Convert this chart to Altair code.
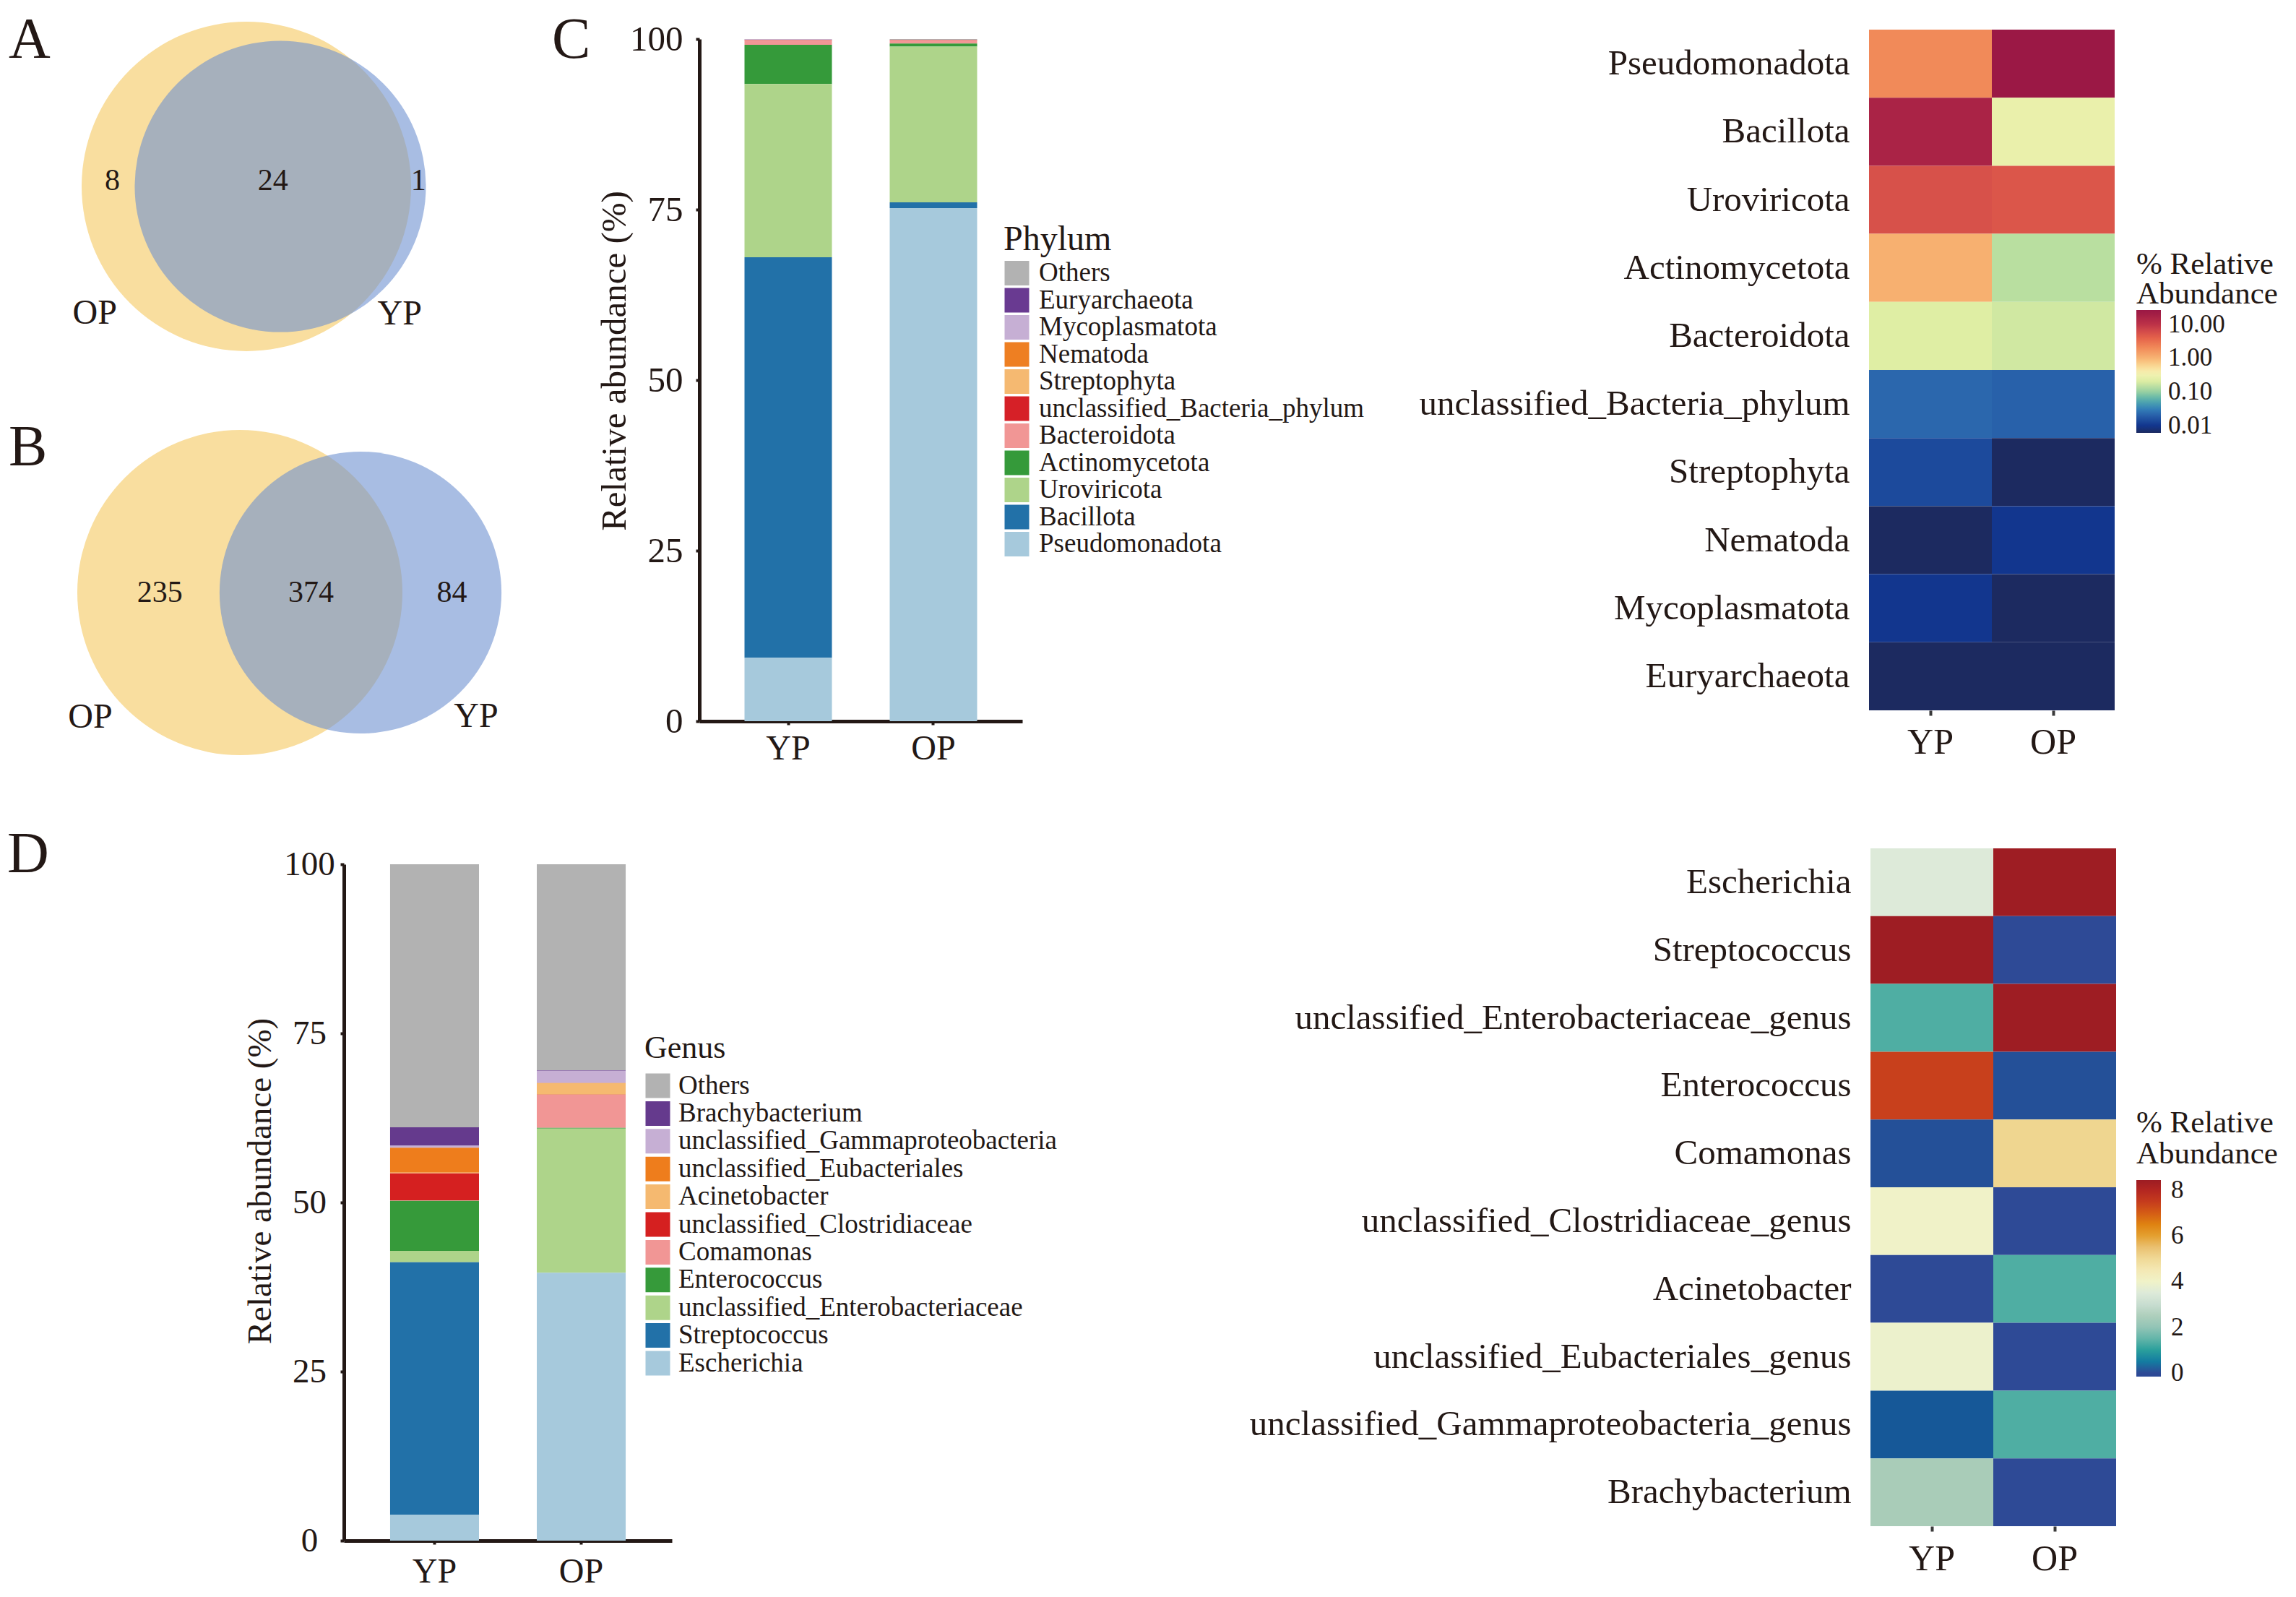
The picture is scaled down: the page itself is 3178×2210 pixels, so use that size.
import math
import altair as alt
import pandas as pd

# ---------------------------------------------------------------- data
groups = ["YP", "OP"]

# Venn counts: OP only, shared, YP only
venn_a_counts = [8, 24, 1]
venn_b_counts = [235, 374, 84]

phylum_legend = ["Others", "Euryarchaeota", "Mycoplasmatota", "Nematoda", "Streptophyta",
                 "unclassified_Bacteria_phylum", "Bacteroidota", "Actinomycetota",
                 "Uroviricota", "Bacillota", "Pseudomonadota"]
phylum_yp = [0.03, 0.01, 0.08, 0.01, 0.02, 0.10, 0.60, 5.75, 25.40, 58.70, 9.30]
phylum_op = [0.10, 0.01, 0.01, 0.02, 0.01, 0.10, 0.40, 0.45, 22.85, 0.85, 75.20]

genus_legend = ["Others", "Brachybacterium", "unclassified_Gammaproteobacteria",
                "unclassified_Eubacteriales", "Acinetobacter", "unclassified_Clostridiaceae",
                "Comamonas", "Enterococcus", "unclassified_Enterobacteriaceae",
                "Streptococcus", "Escherichia"]
genus_yp = [38.90, 2.70, 0.30, 3.70, 0.10, 4.00, 0.05, 7.40, 1.70, 37.30, 3.85]
genus_op = [30.44, 0.10, 1.80, 0.02, 1.70, 0.02, 4.90, 0.10, 21.30, 0.02, 39.60]

heat_c_rows = ["Pseudomonadota", "Bacillota", "Uroviricota", "Actinomycetota", "Bacteroidota",
               "unclassified_Bacteria_phylum", "Streptophyta", "Nematoda", "Mycoplasmatota",
               "Euryarchaeota"]
heat_c_yp = [2.0, 16.0, 5.5, 1.05, 0.21, 0.022, 0.014, 0.006, 0.010, 0.006]
heat_c_op = [26.0, 0.27, 5.0, 0.13, 0.17, 0.020, 0.006, 0.010, 0.006, 0.006]

heat_d_rows = ["Escherichia", "Streptococcus", "unclassified_Enterobacteriaceae_genus",
               "Enterococcus", "Comamonas", "unclassified_Clostridiaceae_genus", "Acinetobacter",
               "unclassified_Eubacteriales_genus", "unclassified_Gammaproteobacteria_genus",
               "Brachybacterium"]
heat_d_yp = [3.5, 8.4, 1.3, 7.4, 0.1, 4.0, 0.0, 3.9, 0.25, 2.4]
heat_d_op = [8.4, 0.0, 8.4, 0.1, 5.1, 0.0, 1.3, 0.0, 1.3, 0.0]

# ---------------------------------------------------------------- styles
INK = "#231815"
FONT = "Liberation Serif"
OX = 8                      # page margin: reference pixel -> canvas pixel
W, H = 3162, 2194

phylum_colors = ["#B2B2B2", "#693A91", "#C6AFD4", "#EE7F22", "#F5B971", "#D62027",
                 "#F19695", "#359A3A", "#AED48A", "#2271A8", "#A6C9DC"]
genus_colors = ["#B2B2B2", "#653A8D", "#C6AFD4", "#EE7D1C", "#F5B970", "#D52020",
                "#F19695", "#369A3A", "#AED48A", "#2271A8", "#A6C9DC"]

c_stops = [0.006, 0.010, 0.014, 0.021, 0.031, 0.047, 0.068, 0.10, 0.14, 0.22, 0.35,
           0.52, 0.78, 1.26, 2.2, 4.0, 6.3, 10, 15, 26.6]
c_cols = ["#1C2A60", "#12368E", "#1C4A9C", "#2A64AC", "#3480B8", "#4AA0B0", "#6ABAA8",
          "#98D0A2", "#C2E3A0", "#E2EFA4", "#F4F2B4", "#F9DE9A", "#F9C480", "#F6A466",
          "#F08556", "#E4614A", "#D24A4A", "#BC3248", "#AC2446", "#9A1845"]
d_stops = [-0.16, 0.0, 0.1, 0.25, 0.45, 0.85, 1.3, 1.9, 2.4, 3.3, 3.6, 4.0, 4.6, 5.1,
           5.5, 6.0, 6.4, 6.8, 7.4, 7.9, 8.44]
d_cols = ["#2B4896", "#2E4A96", "#245098", "#165898", "#1278A2", "#189898", "#4FAEA3",
          "#8CC2B5", "#A9CCB8", "#D8E5DC", "#E0ECD8", "#F0F2C8", "#F5E6B0", "#EFD690",
          "#EAC070", "#E4A030", "#E08A10", "#DA6A12", "#C8401C", "#B82820", "#9C1C23"]

OP_FILL = "#F9DE9F"
YP_FILL = "#6E91D0"


def px(v):
    return v - OX


# ---------------------------------------------------------------- Venn geometry
# circle areas follow the set sizes; the centre separation is a drawing choice
def venn(counts, r_big, left, cy, sep, num_dy):
    op_only, shared, yp_only = counts
    r1 = r_big
    r2 = r_big * math.sqrt((yp_only + shared) / (op_only + shared))
    c1 = left + r1
    c2 = c1 + sep
    # Vega symbol size is the area of the bounding square: (2r)^2
    circles = [
        dict(cx=px(c1), cy=px(cy), size=(2 * r1) ** 2, fill=OP_FILL, alpha=1.0),
        dict(cx=px(c2), cy=px(cy), size=(2 * r2) ** 2, fill=YP_FILL, alpha=0.6),
    ]
    ny = px(cy + num_dy)
    texts = [
        dict(tx=px((c1 - r1) + 0.58 * ((c2 - r2) - (c1 - r1))), ty=ny, label=str(op_only), fs=42),
        dict(tx=px(((c2 - r2) + (c1 + r1)) / 2), ty=ny, label=str(shared), fs=42),
        dict(tx=px(((c1 + r1) + (c2 + r2)) / 2), ty=ny, label=str(yp_only), fs=42),
        dict(tx=px(c1 - 0.92 * r1), ty=px(cy + 0.77 * r1), label="OP", fs=48),
        dict(tx=px(c2 + 0.82 * r2), ty=px(cy + 0.88 * r2), label="YP", fs=48),
    ]
    return circles, texts


circ_a, txt_a = venn(venn_a_counts, 228, 113, 258, 47, -8)
circ_b, txt_b = venn(venn_b_counts, 225, 107, 820, 167, 0)

circles = alt.Chart(pd.DataFrame(circ_a + circ_b)).mark_circle(strokeWidth=0).encode(
    x=alt.X("cx:Q", scale=None, axis=None),
    y=alt.Y("cy:Q", scale=None, axis=None),
    size=alt.Size("size:Q", scale=None),
    color=alt.Color("fill:N", scale=None),
    opacity=alt.Opacity("alpha:Q", scale=None),
)

venn_text = alt.Chart(pd.DataFrame(txt_a + txt_b)).mark_text(
    font=FONT, color=INK, align="center", baseline="middle"
).encode(
    x=alt.X("tx:Q", scale=None, axis=None),
    y=alt.Y("ty:Q", scale=None, axis=None),
    size=alt.Size("fs:Q", scale=None),
    text="label:N",
)

panel_letters = pd.DataFrame({
    "label": ["A", "B", "C", "D"],
    "lx": [px(12), px(12), px(764), px(10)],
    "ly": [px(80), px(644), px(80), px(1207)],
})
letters = alt.Chart(panel_letters).mark_text(
    font=FONT, color=INK, fontSize=80, align="left", baseline="alphabetic"
).encode(
    x=alt.X("lx:Q", scale=None, axis=None),
    y=alt.Y("ly:Q", scale=None, axis=None),
    text="label:N",
)


# ---------------------------------------------------------------- stacked bars
def stack_frame(names, yp, op):
    rows = []
    n = len(names)
    for i, name in enumerate(names):
        rows.append(dict(group="YP", taxon=name, value=yp[i], rank=n - 1 - i))
        rows.append(dict(group="OP", taxon=name, value=op[i], rank=n - 1 - i))
    return pd.DataFrame(rows)


def bar_panel(df, names, colors, xr, y0, y100, pin, pout, ax_font, title_xy,
              lab_pad, lab_align, xlab_pad, leg_title, leg_xy, leg_clip, leg_rowpad,
              leg_tfs, leg_tpad, leg_loff):
    left, right = xr
    y_axis = alt.Axis(
        orient="left", offset=-px(left), values=[0, 25, 50, 75, 100],
        tickSize=5, tickWidth=4, tickColor=INK, domainWidth=5, domainColor=INK,
        labelFontSize=ax_font, labelColor=INK, labelPadding=lab_pad, labelAlign=lab_align,
        labelFlush=False, labelOverlap=False, grid=False,
        title="Relative abundance (%)", titleFontSize=ax_font, titleFontWeight="normal",
        titleColor=INK, titleX=title_xy[0] - left, titleY=px(title_xy[1]), titleAngle=270,
        titleAlign="center", titleBaseline="middle", titleLimit=3000,
    )
    x_axis = alt.Axis(
        orient="bottom", offset=px(y0) - H, tickSize=5, tickWidth=4, tickColor=INK,
        domainWidth=5, domainColor=INK, labelFontSize=48, labelColor=INK,
        labelPadding=xlab_pad, labelAngle=0, title=None, grid=False,
    )
    legend = alt.Legend(
        orient="none", legendX=px(leg_xy[0]), legendY=px(leg_xy[1]), title=leg_title,
        titleFontSize=leg_tfs, titleFontWeight="normal", titleColor=INK, titlePadding=leg_tpad,
        titleLimit=3000, labelFontSize=37, labelColor=INK, labelLimit=3000,
        labelOffset=leg_loff, symbolType="square", symbolSize=34 * 34, symbolStrokeWidth=0,
        symbolOpacity=1, clipHeight=leg_clip, rowPadding=leg_rowpad, padding=0,
    )
    return alt.Chart(df).mark_bar(strokeWidth=0).encode(
        x=alt.X("group:N", scale=alt.Scale(domain=groups, range=[px(left), px(right)],
                                           paddingInner=pin, paddingOuter=pout), axis=x_axis),
        y=alt.Y("value:Q", stack="zero",
                scale=alt.Scale(domain=[0, 100], range=[px(y0), px(y100)], nice=False),
                axis=y_axis),
        color=alt.Color("taxon:N", scale=alt.Scale(domain=names, range=colors), legend=legend),
        order=alt.Order("rank:Q", sort="ascending"),
    )


bar_c = bar_panel(stack_frame(phylum_legend, phylum_yp, phylum_op), phylum_legend, phylum_colors,
                  (968, 1415), 998, 54, 0.398, 0.311, 49, (850, 499), 18, "right", 9,
                  "Phylum", (1389, 308), 36, 0.5, 48, 4, 12)
bar_d = bar_panel(stack_frame(genus_legend, genus_yp, genus_op), genus_legend, genus_colors,
                  (476, 930), 2132, 1196, 0.394, 0.315, 47, (360, 1634), 43, "center", 14,
                  "Genus", (892, 1429), 37, 0.4, 44, 11, 10)


# ---------------------------------------------------------------- heatmaps
def heat_frame(rows, yp, op):
    recs = []
    for i, name in enumerate(rows):
        recs.append(dict(group="YP", taxon=name, value=yp[i]))
        recs.append(dict(group="OP", taxon=name, value=op[i]))
    return pd.DataFrame(recs)


def heat_panel(df, rows, xr, yr, cscale, leg_vals, leg_fmt, leg_y, leg_len, leg_lh,
               leg_tpad, leg_loff, xlab_pad):
    x_axis = alt.Axis(
        orient="bottom", offset=px(yr[1]) - H, domain=False, tickSize=7, tickWidth=4,
        tickColor="#3A3A3A", labelFontSize=50, labelColor=INK, labelPadding=xlab_pad,
        labelAngle=0, title=None, grid=False,
    )
    y_axis = alt.Axis(
        orient="left", offset=-px(xr[0]), domain=False, ticks=False, tickSize=0,
        labelPadding=27, labelFontSize=49, labelColor=INK, labelLimit=3000, title=None,
        grid=False,
    )
    legend = alt.Legend(
        orient="none", legendX=px(2957), legendY=px(leg_y), direction="vertical",
        title=["% Relative", "Abundance"], titleFontSize=43, titleFontWeight="normal",
        titleColor=INK, titleLineHeight=leg_lh, titlePadding=leg_tpad, titleLimit=3000,
        gradientLength=leg_len, gradientThickness=34, gradientStrokeWidth=0,
        values=leg_vals, format=leg_fmt, labelFontSize=35, labelColor=INK,
        labelOffset=leg_loff, labelOverlap=False, padding=0,
    )
    return alt.Chart(df).mark_rect(strokeWidth=0).encode(
        x=alt.X("group:N", scale=alt.Scale(domain=groups, range=[px(xr[0]), px(xr[1])],
                                           paddingInner=0, paddingOuter=0), axis=x_axis),
        y=alt.Y("taxon:N", scale=alt.Scale(domain=rows, range=[px(yr[0]), px(yr[1])],
                                           paddingInner=0, paddingOuter=0), axis=y_axis),
        color=alt.Color("value:Q", scale=cscale, legend=legend),
    )


heat_c = heat_panel(
    heat_frame(heat_c_rows, heat_c_yp, heat_c_op), heat_c_rows, (2587, 2927), (41, 983),
    alt.Scale(type="log", domain=c_stops, range=c_cols, interpolate="rgb"),
    [0.01, 0.1, 1, 10], ".2f", 345, 170, 41, 0, 10, 12,
)
heat_d = heat_panel(
    heat_frame(heat_d_rows, heat_d_yp, heat_d_op), heat_d_rows, (2589, 2929), (1174, 2112),
    alt.Scale(type="linear", domain=d_stops, range=d_cols, interpolate="rgb", zero=False,
              nice=False),
    [0, 2, 4, 6, 8], "d", 1533, 272, 43, 14, 14, 13,
)

# ---------------------------------------------------------------- compose
chart = alt.layer(
    circles, venn_text, letters, bar_c, heat_c, bar_d, heat_d
).resolve_scale(
    x="independent", y="independent", color="independent"
).properties(
    width=W, height=H, autosize=alt.AutoSizeParams(type="none"), padding=0,
    background="white",
).configure(
    font=FONT
).configure_view(
    stroke=None
).configure_axis(
    grid=False, labelFont=FONT, titleFont=FONT
).configure_legend(
    labelFont=FONT, titleFont=FONT
)

chart.save("out.html", embed_options={"renderer": "svg", "actions": False})
